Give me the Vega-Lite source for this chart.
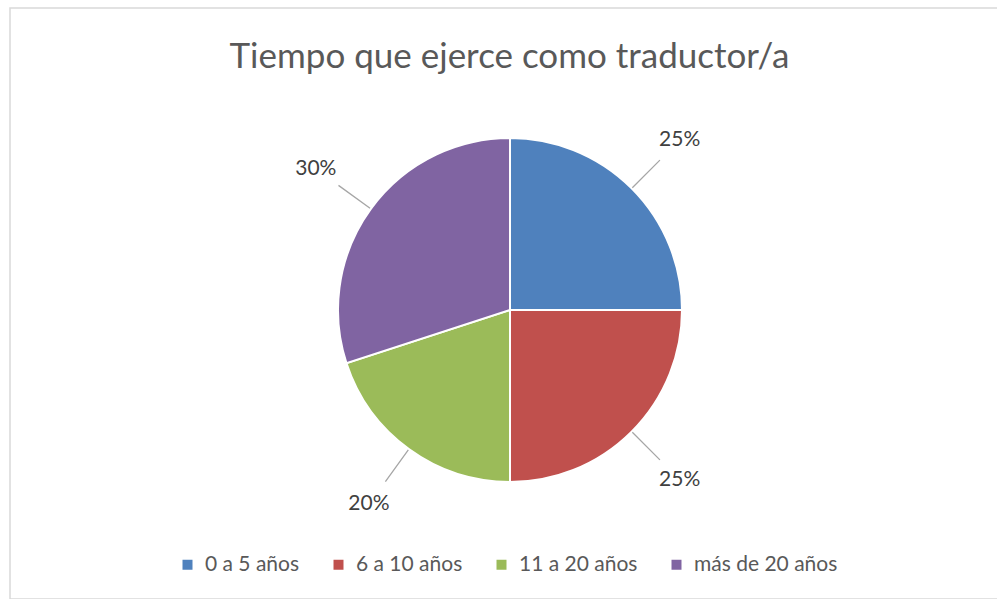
{
  "$schema": "https://vega.github.io/schema/vega-lite/v6.json",
  "width": 987,
  "height": 591,
  "autosize": {"type": "none"},
  "padding": {"left": 10, "top": 8, "right": 0, "bottom": 0},
  "background": "white",
  "title": {
    "text": "Tiempo que ejerce como traductor/a",
    "anchor": "middle",
    "orient": "top",
    "offset": -56,
    "dy": 40,
    "dx": 6,
    "baseline": "alphabetic",
    "font": "Lato",
    "fontSize": 35,
    "fontWeight": "normal",
    "color": "#595959"
  },
  "data": {
    "values": [
      {"categoria": "0 a 5 años", "porcentaje": 0.25, "orden": 1},
      {"categoria": "6 a 10 años", "porcentaje": 0.25, "orden": 2},
      {"categoria": "11 a 20 años", "porcentaje": 0.20, "orden": 3},
      {"categoria": "más de 20 años", "porcentaje": 0.30, "orden": 4}
    ]
  },
  "layer": [
    {
      "data": {"values": [{"marco": 1}]},
      "mark": {"type": "rect", "fill": null, "fillOpacity": 0, "stroke": "#d9d9d9", "strokeWidth": 1.5, "xOffset": 30},
      "encoding": {}
    },
    {
      "mark": {"type": "arc", "outerRadius": 172, "stroke": "white", "strokeWidth": 2, "xOffset": 6.5, "yOffset": 6.5},
      "encoding": {
        "theta": {"field": "porcentaje", "type": "quantitative", "stack": true},
        "order": {"field": "orden", "type": "quantitative"},
        "color": {
          "field": "categoria",
          "type": "nominal",
          "scale": {
            "domain": ["0 a 5 años", "6 a 10 años", "11 a 20 años", "más de 20 años"],
            "range": ["#4F81BD", "#C0504D", "#9BBB59", "#8064A2"]
          },
          "legend": {
            "title": null,
            "orient": "none",
            "direction": "horizontal",
            "legendX": 167,
            "legendY": 546,
            "symbolType": "square",
            "symbolSize": 100,
            "symbolStrokeWidth": 0,
            "labelFont": "Lato",
            "labelFontSize": 21,
            "labelColor": "#595959",
            "labelOffset": 7,
            "columnPadding": 28,
            "labelLimit": 300,
            "padding": 0
          }
        }
      }
    },
    {
      "mark": {"type": "arc", "innerRadius": 173, "outerRadius": 212, "padAngle": 3, "filled": false, "stroke": "#a6a6a6", "strokeWidth": 1.3, "xOffset": 6.5, "yOffset": 6.5},
      "encoding": {
        "theta": {"field": "porcentaje", "type": "quantitative", "stack": true},
        "order": {"field": "orden", "type": "quantitative"},
        "detail": {"field": "categoria", "type": "nominal"}
      }
    },
    {
      "mark": {"type": "text", "radius": 240, "font": "Lato", "fontSize": 21, "color": "#404040", "align": "center", "baseline": "middle", "xOffset": 6.5, "yOffset": 6.5},
      "encoding": {
        "theta": {"field": "porcentaje", "type": "quantitative", "stack": true},
        "order": {"field": "orden", "type": "quantitative"},
        "detail": {"field": "categoria", "type": "nominal"},
        "text": {"field": "porcentaje", "type": "quantitative", "format": ".0%"}
      }
    }
  ],
  "config": {
    "view": {"stroke": null}
  }
}
